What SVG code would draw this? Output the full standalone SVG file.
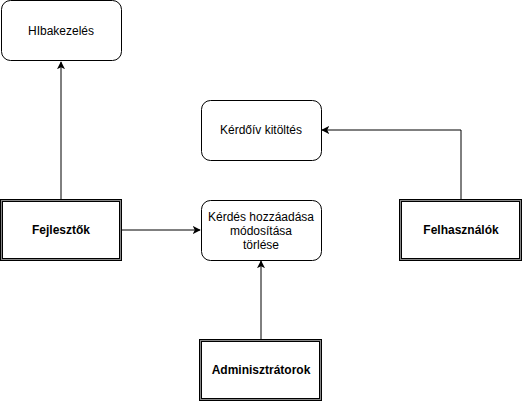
<svg xmlns="http://www.w3.org/2000/svg" width="522" height="402" viewBox="0 0 522 402">
<style>
.r{fill:#fff;stroke:#000;stroke-width:1}
.d{fill:#fff;stroke:#000;stroke-width:3}
.di{fill:none;stroke:#888;stroke-width:1}
.t{font-family:"Liberation Sans",Arial,sans-serif;font-size:12px;fill:#000;text-anchor:middle}
.b{font-weight:bold}
.c{fill:none;stroke:#000;stroke-width:1}
</style>
<defs>
<marker id="a" viewBox="0 0 10 10" refX="9" refY="5" markerWidth="8" markerHeight="8" markerUnits="userSpaceOnUse" orient="auto">
<path d="M0,0 L10,5 L0,10 L2.5,5 Z" fill="#000"/>
</marker>
</defs>
<rect width="522" height="402" fill="#fff"/>
<g id="connectors">
<path class="c" d="M61,199 L61,62" marker-end="url(#a)"/>
<path class="c" d="M122,230 L200,230" marker-end="url(#a)"/>
<path class="c" d="M461,199 L461,130 L322,130" marker-end="url(#a)"/>
<path class="c" d="M261,339 L261,261" marker-end="url(#a)"/>
</g>
<g id="hibakezeles">
<rect class="r" x="1.5" y="0.5" width="120" height="60" rx="9"/>
<text class="t" x="61" y="35">HIbakezelés</text>
</g>
<g id="kerdoiv">
<rect class="r" x="201.5" y="100.5" width="120" height="60" rx="9"/>
<text class="t" x="261" y="134">Kérdőív kitöltés</text>
</g>
<g id="kerdes">
<rect class="r" x="201.5" y="200.5" width="120" height="60" rx="9"/>
<text class="t" x="261" y="221">Kérdés hozzáadása</text>
<text class="t" x="261" y="235">módosítása</text>
<text class="t" x="261" y="249">törlése</text>
</g>
<g id="fejlesztok">
<rect class="d" x="1.5" y="200.5" width="119" height="59"/>
<rect class="di" x="1.5" y="200.5" width="119" height="59"/>
<text class="t b" x="61" y="234">Fejlesztők</text>
</g>
<g id="felhasznalok">
<rect class="d" x="400.5" y="200.5" width="120" height="59"/>
<rect class="di" x="400.5" y="200.5" width="120" height="59"/>
<text class="t b" x="461" y="234">Felhasználók</text>
</g>
<g id="adminisztratorok">
<rect class="d" x="200.5" y="340.5" width="120" height="59"/>
<rect class="di" x="200.5" y="340.5" width="120" height="59"/>
<text class="t b" x="261" y="374">Adminisztrátorok</text>
</g>
</svg>
